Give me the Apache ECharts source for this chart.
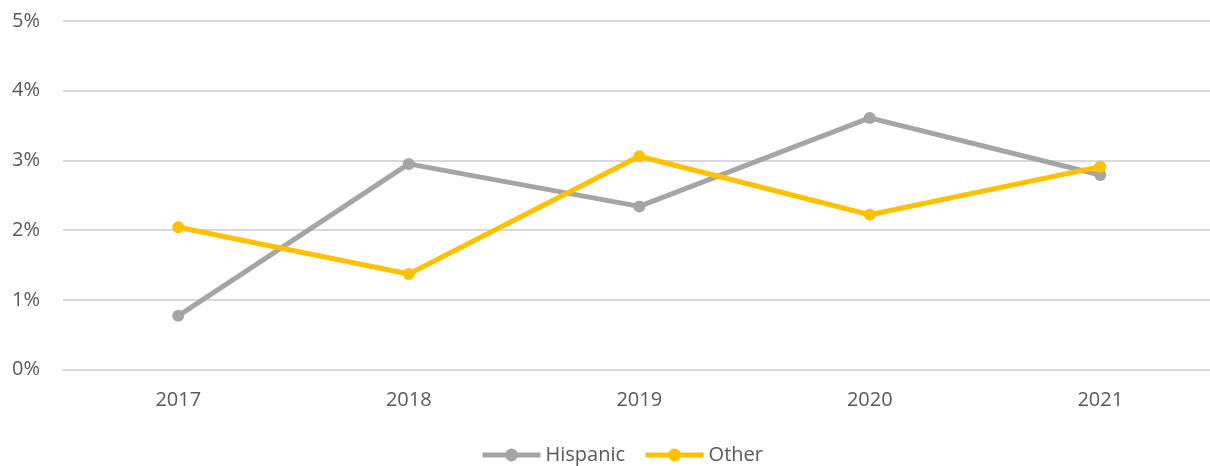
<!DOCTYPE html>
<html>
<head>
<meta charset="utf-8">
<script src="https://cdn.jsdelivr.net/npm/echarts@6/dist/echarts.min.js"></script>
<style>
  html, body { margin: 0; padding: 0; background: #fff; overflow: hidden; }
  #chart { width: 1216px; height: 466px; }
</style>
</head>
<body>
<div id="chart"></div>
<script>
const years = ["2017", "2018", "2019", "2020", "2021"];
const hispanic = [0.77, 2.95, 2.34, 3.61, 2.79];
const other = [2.04, 1.37, 3.06, 2.22, 2.91];

const chart = echarts.init(document.getElementById("chart"));

const option = {
  animation: false,
  textStyle: { fontFamily: "Open Sans" },
  grid: {
    left: 63,
    top: 21,
    width: 1152.5,
    height: 348.5,
    containLabel: false,
  },
  legend: {
    top: 440,
    left: 475,
    itemWidth: 58,
    itemHeight: 16,
    itemGap: 18,
    lineStyle: { width: 5 },
    textStyle: { color: "#595959", fontSize: 20, fontFamily: "Open Sans" },
    data: ["Hispanic", "Other"],
  },
  xAxis: {
    type: "category",
    data: years,
    axisLine: { show: true, lineStyle: { color: "#d9d9d9", width: 2 } },
    axisTick: { show: false },
    axisLabel: { color: "#595959", fontSize: 20, margin: 21 },
  },
  yAxis: {
    type: "value",
    min: 0,
    max: 5,
    interval: 1,
    axisLine: { show: false },
    axisTick: { show: false },
    axisLabel: {
      color: "#595959",
      fontSize: 20,
      margin: 23,
      formatter: "{value}%",
    },
    splitLine: { lineStyle: { color: "#d9d9d9", width: 2 } },
  },
  series: [
    {
      name: "Hispanic",
      type: "line",
      data: hispanic,
      symbol: "circle",
      symbolSize: 12,
      itemStyle: { color: "#A5A5A5" },
      lineStyle: { color: "#A5A5A5", width: 5 },
    },
    {
      name: "Other",
      type: "line",
      data: other,
      symbol: "circle",
      symbolSize: 12,
      itemStyle: { color: "#FFC000" },
      lineStyle: { color: "#FFC000", width: 5 },
    },
  ],
};

chart.setOption(option);
</script>
</body>
</html>
